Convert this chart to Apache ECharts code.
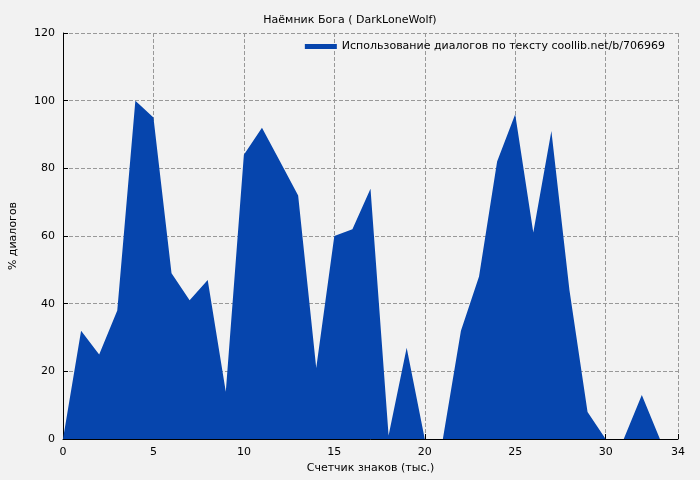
<!DOCTYPE html>
<html><head><meta charset="utf-8">
<script src="https://cdn.jsdelivr.net/npm/echarts@6/dist/echarts.min.js"></script>
<style>html,body{margin:0;background:#f2f2f2}</style></head>
<body><div id="c" style="width:700px;height:480px"></div>
<script>
const xs = [0,1,2,3,4,5,6,7,8,9,10,11,12,13,14,15,16,17,18,19,20,21,22,23,24,25,26,27,28,29,30,31,32,33];
const ys = [0,32,25,38,100,95,49,41,47,14,84,92,82,72,21,60,62,74,1,27,0,0,32,48,82,96,61,91,44,8,0,0,13,0];
const title = 'Наёмник Бога ( DarkLoneWolf)';
const seriesName = 'Использование диалогов по тексту coollib.net/b/706969';
const ch = echarts.init(document.getElementById('c'));
const f = 'DejaVu Sans';
ch.setOption({
  backgroundColor:'#f2f2f2',
  title:{text:title,left:'center',top:10,textStyle:{fontFamily:f,fontSize:11,fontWeight:'normal',color:'#000'}},
  legend:{right:30,top:36,itemWidth:32,itemHeight:5,icon:'rect',itemGap:6,align:'left',
    textStyle:{fontFamily:f,fontSize:11,color:'#000'},data:[{name:seriesName}]},
  grid:{left:61,right:22,top:33,bottom:41},
  xAxis:{type:'value',min:0,max:34,interval:5,name:'Счетчик знаков (тыс.)',nameLocation:'middle',nameGap:24,
    nameTextStyle:{fontFamily:f,fontSize:11,color:'#000'},
    axisLine:{lineStyle:{color:'#000'}},axisTick:{inside:true,lineStyle:{color:'#000'}},
    axisLabel:{fontFamily:f,fontSize:11,color:'#000'},
    splitLine:{lineStyle:{type:'dashed',color:'#999'}}},
  yAxis:{type:'value',min:0,max:120,interval:20,name:'% диалогов',nameLocation:'middle',nameGap:44,
    nameTextStyle:{fontFamily:f,fontSize:11,color:'#000'},
    axisLine:{show:true,lineStyle:{color:'#000'}},axisTick:{show:true,inside:true,lineStyle:{color:'#000'}},
    axisLabel:{fontFamily:f,fontSize:11,color:'#000'},
    splitLine:{lineStyle:{type:'dashed',color:'#999'}}},
  series:[{name:seriesName,type:'line',data:xs.map((x,i)=>[x,ys[i]]),symbol:'none',
    lineStyle:{width:0,color:'#0645ad'},itemStyle:{color:'#0645ad'},areaStyle:{color:'#0645ad',opacity:1}}]
});
</script></body></html>
